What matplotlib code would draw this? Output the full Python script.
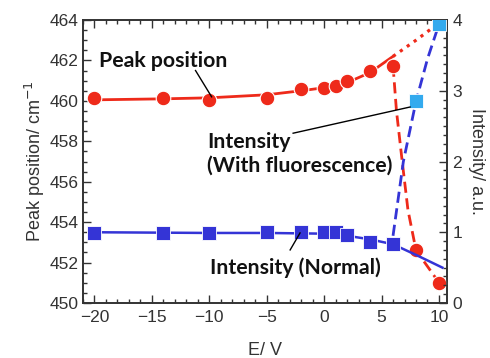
import matplotlib
matplotlib.use('Agg')
import matplotlib.pyplot as plt
from matplotlib.ticker import MultipleLocator

# ---- data ----
x_peak = [-20, -14, -10, -5, -2, 0, 1, 2, 4, 6, 8, 10]
y_peak = [460.12, 460.15, 460.04, 460.15, 460.57, 460.62, 460.75, 460.98, 461.49, 461.74, 452.61, 451.01]

fit_peak_x = [-20, -14, -10, -5, -2, 0, 2, 4, 6]
fit_peak_y = [460.05, 460.1, 460.15, 460.3, 460.5, 460.65, 460.9, 461.4, 462.2]
ext_peak_x = [6, 8, 10]
ext_peak_y = [462.2, 463.0, 463.85]
drop_peak_x = [6, 6.3, 6.8, 7.3, 8, 10]
drop_peak_y = [461.74, 459.5, 457.0, 454.6, 452.61, 451.01]

x_int = [-20, -14, -10, -5, -2, 0, 1, 2, 4, 6]
y_int = [0.99, 0.99, 0.99, 1.0, 1.0, 1.01, 1.01, 0.96, 0.86, 0.84]
x_fl = [8, 10]
y_fl = [2.85, 3.94]

fit_int_x = [-20, -10, -5, 0, 2, 4, 6, 8, 10.3]
fit_int_y = [1.0, 0.99, 0.99, 0.98, 0.95, 0.9, 0.83, 0.68, 0.5]
rise_int_x = [6, 6.9, 8, 9, 10]
rise_int_y = [0.95, 2.0, 2.85, 3.45, 3.94]

x_ticks = [-20, -15, -10, -5, 0, 5, 10]
yl_ticks = [450, 452, 454, 456, 458, 460, 462, 464]
yr_ticks = [0, 1, 2, 3, 4]

RED = '#ee2a1a'
BLUE = '#3434d6'
LBLUE = '#33aaee'
TXT = '#333333'

plt.rcParams['font.family'] = ['Liberation Sans', 'DejaVu Sans']

fig = plt.figure(figsize=(4.9, 3.58), dpi=100)
ax = fig.add_axes([83/490, 1-303/358, (447-83)/490, (303-20)/358])
ax2 = ax.twinx()

# red: peak position
ax.plot(fit_peak_x, fit_peak_y, '-', color=RED, lw=2, zorder=2)
ax.plot(ext_peak_x, ext_peak_y, ':', color=RED, lw=2.3, zorder=2)
ax.plot(drop_peak_x, drop_peak_y, '--', color=RED, lw=2, dashes=(4, 2), zorder=2)
ax.plot(x_peak, y_peak, 'o', color=RED, ms=10.5, mec='white', mew=0.8, zorder=4)

# blue: intensity
ax2.plot(fit_int_x, fit_int_y, '-', color=BLUE, lw=1.8, zorder=2)
ax2.plot(rise_int_x, rise_int_y, '--', color=BLUE, lw=2, dashes=(4, 2), zorder=2)
ax2.plot(x_int, y_int, 's', color=BLUE, ms=10, mec='white', mew=0.6, zorder=3)
ax2.plot(x_fl, y_fl, 's', color=LBLUE, ms=10, mec='white', mew=0.6, zorder=3)

ax.set_xlim(-21, 10.7)
ax.set_ylim(450, 464)
ax2.set_ylim(0, 4)
ax.set_xticks(x_ticks)
ax.set_yticks(yl_ticks)
ax2.set_yticks(yr_ticks)
ax.xaxis.set_minor_locator(MultipleLocator(1))
ax.yaxis.set_minor_locator(MultipleLocator(0.5))
ax2.yaxis.set_minor_locator(MultipleLocator(0.125))

ax.tick_params(axis='x', which='both', direction='in', top=True, labelsize=12.5, labelcolor=TXT, pad=5)
ax.tick_params(axis='y', which='both', direction='in', labelsize=12.5, labelcolor=TXT, pad=3)
ax.tick_params(which='major', length=6, width=1, color=TXT)
ax.tick_params(which='minor', length=3, width=1, color=TXT)
ax2.tick_params(axis='y', which='both', direction='in', labelsize=12.5, labelcolor=TXT, pad=4, color=TXT)
ax2.tick_params(which='major', length=6, width=1)
ax2.tick_params(which='minor', length=3, width=1)
for a in (ax, ax2):
    for s in a.spines.values():
        s.set_color(TXT)
        s.set_linewidth(1.2)

ax.set_xlabel('E/ V', fontsize=13, color=TXT, labelpad=12)
ax.set_ylabel('Peak position/ cm$^{-1}$', fontsize=13, color=TXT, labelpad=2)
ax2.set_ylabel('Intensity/ a.u.', fontsize=13, color=TXT, rotation=270, labelpad=16)

# annotations
afont = dict(family=['Lato', 'DejaVu Sans'], fontweight='bold', fontsize=15.3, color='#111111')
ax.text(-19.65, 461.99, 'Peak position', ha='left', va='center', **afont)
ax.plot([-11.2, -9.8], [461.5, 460.2], color='black', lw=1, zorder=5)

ax2.text(-10.17, 2.11, 'Intensity\n(With fluorescence)', ha='left', va='center', linespacing=1.25, **afont)
ax2.plot([-2.7, 7.48], [2.40, 2.77], color='black', lw=1, zorder=5)

ax2.text(-9.9, 0.505, 'Intensity (Normal)', ha='left', va='center', **afont)
ax2.plot([-2.96, -2.1], [0.75, 0.99], color='black', lw=1, zorder=5)

fig.savefig('out.png', dpi=100)
